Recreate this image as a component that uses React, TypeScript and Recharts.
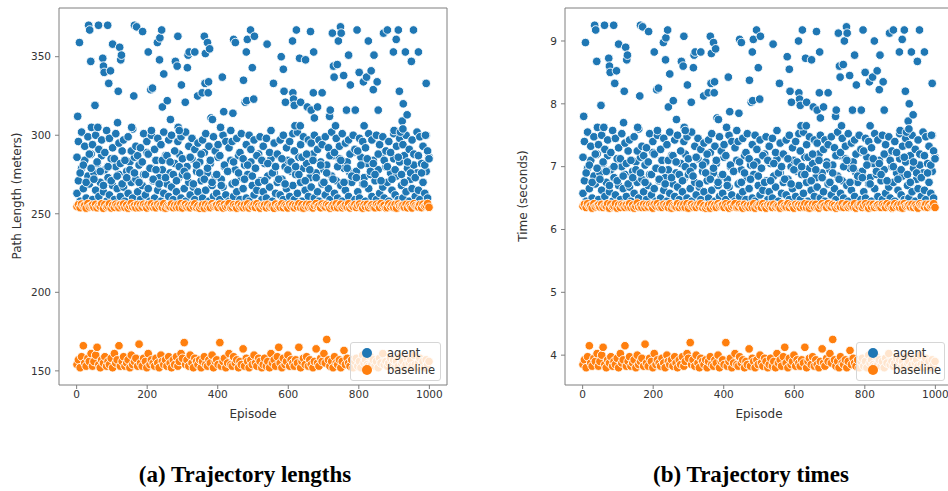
import React from 'react';
import { ScatterChart, Scatter, XAxis, YAxis, ReferenceLine } from 'recharts';

// sampled episodes (dense band + baseline)
const episodes = [
  1, 5, 10, 14, 19, 23, 27, 32, 36, 41,
  45, 49, 54, 58, 63, 67, 71, 76, 80, 85,
  89, 93, 98, 102, 107, 111, 115, 120, 124, 129,
  133, 137, 142, 146, 151, 155, 159, 164, 168, 173,
  177, 181, 186, 190, 195, 199, 203, 208, 212, 217,
  221, 225, 230, 234, 239, 243, 247, 252, 256, 261,
  265, 269, 274, 278, 283, 287, 291, 296, 300, 305,
  309, 313, 318, 322, 327, 331, 335, 340, 344, 349,
  353, 357, 362, 366, 371, 375, 379, 384, 388, 393,
  397, 401, 406, 410, 415, 419, 423, 428, 432, 437,
  441, 445, 450, 454, 459, 463, 467, 472, 476, 481,
  485, 489, 494, 498, 503, 507, 511, 516, 520, 525,
  529, 533, 538, 542, 547, 551, 555, 560, 564, 569,
  573, 577, 582, 586, 591, 595, 599, 604, 608, 613,
  617, 621, 626, 630, 635, 639, 643, 648, 652, 657,
  661, 665, 670, 674, 679, 683, 687, 692, 696, 701,
  705, 709, 714, 718, 723, 727, 731, 736, 740, 745,
  749, 753, 758, 762, 767, 771, 775, 780, 784, 789,
  793, 797, 802, 806, 811, 815, 819, 824, 828, 833,
  837, 841, 846, 850, 855, 859, 863, 868, 872, 877,
  881, 885, 890, 894, 899, 903, 907, 912, 916, 921,
  925, 929, 934, 938, 943, 947, 951, 956, 960, 965,
  969, 973, 978, 982, 987, 991, 995, 999,
];

const agentLength1 = [
  263, 271, 258, 279, 266, 284, 260, 274, 269, 288,
  259, 276, 265, 282, 261, 270, 287, 264, 278, 258,
  273, 262, 285, 268, 259, 280, 266, 275, 261, 290,
  267, 258, 277, 263, 283, 270, 260, 286, 272, 264,
  281, 259, 268, 275, 262, 289, 266, 258, 279, 271,
  260, 284, 265, 273, 258, 278, 263, 287, 269, 261,
  276, 267, 259, 282, 264, 272, 288, 260, 275, 266,
  258, 280, 270, 262, 285, 267, 259, 277, 264, 283,
  271, 260, 289, 265, 276, 258, 282, 268, 261, 274,
  263, 286, 259, 272, 267, 280, 262, 277, 258, 284,
  269, 261, 278, 264, 287, 259, 273, 266, 281, 260,
  275, 258, 283, 268, 262, 279, 265, 288, 271, 259,
  264, 282, 260, 274, 267, 285, 258, 276, 263, 270,
  287, 262, 272, 259, 280, 266, 284, 261, 277, 268,
  259, 275, 263, 286, 270, 258, 279, 265, 282, 261,
  273, 267, 288, 260, 276, 264, 258, 283, 269, 278,
  262, 281, 266, 259, 274, 287, 263, 271, 260, 285,
  268, 258, 279, 265, 283, 261, 276, 270, 289, 259,
  277, 264, 260, 286, 269, 273, 258, 282, 266, 275,
  261, 284, 271, 259, 278, 263, 288, 267, 260, 280,
  270, 258, 276, 265, 285, 262, 274, 259, 283, 268,
  260, 287, 264, 279, 258, 272, 266, 281, 261, 276,
  265, 259, 282, 270, 263, 277, 260, 286,
];

const agentLength2 = [
  286, 296, 276, 302, 281, 293, 270, 299, 288, 279,
  294, 272, 300, 283, 291, 277, 297, 268, 289, 303,
  280, 298, 271, 292, 285, 301, 274, 295, 282, 269,
  297, 284, 273, 299, 278, 290, 304, 276, 293, 287,
  270, 292, 283, 301, 275, 296, 288, 279, 300, 272,
  291, 278, 298, 269, 294, 284, 302, 273, 287, 297,
  283, 300, 275, 290, 271, 296, 280, 299, 285, 277,
  302, 274, 293, 286, 298, 269, 291, 281, 295, 276,
  288, 297, 272, 301, 279, 293, 284, 270, 299, 290,
  275, 294, 287, 268, 300, 281, 296, 277, 292, 303,
  296, 283, 270, 298, 276, 289, 301, 285, 272, 294,
  281, 300, 291, 274, 297, 279, 287, 270, 299, 284,
  293, 271, 298, 282, 289, 303, 276, 295, 280, 288,
  272, 297, 285, 300, 269, 292, 278, 296, 283, 301,
  290, 280, 302, 275, 294, 286, 299, 271, 288, 297,
  278, 295, 284, 300, 273, 291, 297, 281, 294, 270,
  299, 276, 292, 287, 302, 272, 289, 298, 280, 293,
  284, 301, 270, 295, 279, 297, 288, 274, 300, 291,
  273, 290, 298, 281, 296, 269, 292, 285, 301, 277,
  297, 282, 275, 300, 288, 294, 271, 299, 284, 290,
  280, 296, 289, 272, 301, 278, 293, 286, 298, 275,
  294, 270, 300, 283, 291, 276, 297, 288, 273, 302,
  287, 299, 276, 293, 281, 300, 290, 285,
];

const agentTime1 = [
  6.575, 6.775, 6.45, 6.975, 6.65, 7.1, 6.5, 6.85, 6.725, 7.2,
  6.475, 6.9, 6.625, 7.05, 6.525, 6.75, 7.175, 6.6, 6.95, 6.45,
  6.825, 6.55, 7.125, 6.7, 6.475, 7.0, 6.65, 6.875, 6.525, 7.25,
  6.675, 6.45, 6.925, 6.575, 7.075, 6.75, 6.5, 7.15, 6.8, 6.6,
  7.025, 6.475, 6.7, 6.875, 6.55, 7.225, 6.65, 6.45, 6.975, 6.775,
  6.5, 7.1, 6.625, 6.825, 6.45, 6.95, 6.575, 7.175, 6.725, 6.525,
  6.9, 6.675, 6.475, 7.05, 6.6, 6.8, 7.2, 6.5, 6.875, 6.65,
  6.45, 7.0, 6.75, 6.55, 7.125, 6.675, 6.475, 6.925, 6.6, 7.075,
  6.775, 6.5, 7.225, 6.625, 6.9, 6.45, 7.05, 6.7, 6.525, 6.85,
  6.575, 7.15, 6.475, 6.8, 6.675, 7.0, 6.55, 6.925, 6.45, 7.1,
  6.725, 6.525, 6.95, 6.6, 7.175, 6.475, 6.825, 6.65, 7.025, 6.5,
  6.875, 6.45, 7.075, 6.7, 6.55, 6.975, 6.625, 7.2, 6.775, 6.475,
  6.6, 7.05, 6.5, 6.85, 6.675, 7.125, 6.45, 6.9, 6.575, 6.75,
  7.175, 6.55, 6.8, 6.475, 7.0, 6.65, 7.1, 6.525, 6.925, 6.7,
  6.475, 6.875, 6.575, 7.15, 6.75, 6.45, 6.975, 6.625, 7.05, 6.525,
  6.825, 6.675, 7.2, 6.5, 6.9, 6.6, 6.45, 7.075, 6.725, 6.95,
  6.55, 7.025, 6.65, 6.475, 6.85, 7.175, 6.575, 6.775, 6.5, 7.125,
  6.7, 6.45, 6.975, 6.625, 7.075, 6.525, 6.9, 6.75, 7.225, 6.475,
  6.925, 6.6, 6.5, 7.15, 6.725, 6.825, 6.45, 7.05, 6.65, 6.875,
  6.525, 7.1, 6.775, 6.475, 6.95, 6.575, 7.2, 6.675, 6.5, 7.0,
  6.75, 6.45, 6.9, 6.625, 7.125, 6.55, 6.85, 6.475, 7.075, 6.7,
  6.5, 7.175, 6.6, 6.975, 6.45, 6.8, 6.65, 7.025, 6.525, 6.9,
  6.625, 6.475, 7.05, 6.75, 6.575, 6.925, 6.5, 7.15,
];

const agentTime2 = [
  7.15, 7.4, 6.9, 7.55, 7.025, 7.325, 6.75, 7.475, 7.2, 6.975,
  7.35, 6.8, 7.5, 7.075, 7.275, 6.925, 7.425, 6.7, 7.225, 7.575,
  7.0, 7.45, 6.775, 7.3, 7.125, 7.525, 6.85, 7.375, 7.05, 6.725,
  7.425, 7.1, 6.825, 7.475, 6.95, 7.25, 7.6, 6.9, 7.325, 7.175,
  6.75, 7.3, 7.075, 7.525, 6.875, 7.4, 7.2, 6.975, 7.5, 6.8,
  7.275, 6.95, 7.45, 6.725, 7.35, 7.1, 7.55, 6.825, 7.175, 7.425,
  7.075, 7.5, 6.875, 7.25, 6.775, 7.4, 7.0, 7.475, 7.125, 6.925,
  7.55, 6.85, 7.325, 7.15, 7.45, 6.725, 7.275, 7.025, 7.375, 6.9,
  7.2, 7.425, 6.8, 7.525, 6.975, 7.325, 7.1, 6.75, 7.475, 7.25,
  6.875, 7.35, 7.175, 6.7, 7.5, 7.025, 7.4, 6.925, 7.3, 7.575,
  7.4, 7.075, 6.75, 7.45, 6.9, 7.225, 7.525, 7.125, 6.8, 7.35,
  7.025, 7.5, 7.275, 6.85, 7.425, 6.975, 7.175, 6.75, 7.475, 7.1,
  7.325, 6.775, 7.45, 7.05, 7.225, 7.575, 6.9, 7.375, 7.0, 7.2,
  6.8, 7.425, 7.125, 7.5, 6.725, 7.3, 6.95, 7.4, 7.075, 7.525,
  7.25, 7.0, 7.55, 6.875, 7.35, 7.15, 7.475, 6.775, 7.2, 7.425,
  6.95, 7.375, 7.1, 7.5, 6.825, 7.275, 7.425, 7.025, 7.35, 6.75,
  7.475, 6.9, 7.3, 7.175, 7.55, 6.8, 7.225, 7.45, 7.0, 7.325,
  7.1, 7.525, 6.75, 7.375, 6.975, 7.425, 7.2, 6.85, 7.5, 7.275,
  6.825, 7.25, 7.45, 7.025, 7.4, 6.725, 7.3, 7.125, 7.525, 6.925,
  7.425, 7.05, 6.875, 7.5, 7.2, 7.35, 6.775, 7.475, 7.1, 7.25,
  7.0, 7.4, 7.225, 6.8, 7.525, 6.95, 7.325, 7.15, 7.45, 6.875,
  7.35, 6.75, 7.5, 7.075, 7.275, 6.9, 7.425, 7.2, 6.825, 7.55,
  7.175, 7.475, 6.9, 7.325, 7.025, 7.5, 7.25, 7.125,
];

// sparse agent episodes above ~300 m
const outlierEpisodes = [
  3, 8, 34, 37, 40, 42, 52, 60, 62, 74,
  76, 78, 88, 91, 96, 102, 116, 118, 122, 125,
  127, 156, 162, 164, 170, 187, 203, 210, 212, 215,
  229, 235, 236, 241, 243, 247, 257, 266, 280, 285,
  287, 288, 291, 297, 308, 314, 316, 319, 335, 343,
  356, 362, 364, 365, 371, 373, 374, 377, 381, 385,
  408, 413, 417, 443, 445, 450, 473, 478, 481, 482,
  484, 493, 498, 502, 504, 540, 558, 580, 586, 588,
  592, 612, 613, 615, 617, 619, 623, 632, 634, 635,
  649, 654, 663, 665, 671, 672, 674, 683, 696, 717,
  719, 725, 728, 730, 734, 739, 742, 748, 750, 757,
  765, 771, 776, 790, 795, 801, 813, 815, 822, 827,
  835, 841, 843, 852, 855, 870, 881, 898, 900, 906,
  912, 915, 918, 923, 925, 926, 932, 937, 949, 955,
  969, 989, 991,
];

const outlierLength = [
  312, 359, 370, 367, 347, 305, 319, 305, 370, 349,
  344, 340, 370, 333, 341, 358, 308, 328, 356, 348,
  351, 305, 325, 370, 369, 366, 353, 329, 303, 330,
  359, 348, 362, 367, 318, 339, 322, 310, 347, 344,
  363, 305, 303, 332, 321, 343, 351, 353, 353, 325,
  327, 363, 333, 352, 359, 327, 334, 355, 311, 310,
  305, 337, 315, 314, 361, 359, 335, 321, 353, 322,
  361, 367, 343, 323, 363, 358, 333, 350, 342, 328,
  321, 360, 327, 323, 319, 306, 367, 349, 306, 321,
  348, 318, 366, 316, 327, 353, 311, 318, 327, 312,
  316, 365, 344, 337, 306, 345, 360, 369, 365, 338,
  316, 351, 332, 316, 367, 340, 334, 306, 337, 360,
  341, 329, 351, 334, 316, 365, 367, 353, 303, 361,
  367, 328, 302, 309, 304, 320, 353, 313, 347, 367,
  353, 300, 333,
];

const outlierTime = [
  7.8, 8.975, 9.25, 9.175, 8.675, 7.625, 7.975, 7.625, 9.25, 8.725,
  8.6, 8.5, 9.25, 8.325, 8.525, 8.95, 7.7, 8.2, 8.9, 8.7,
  8.775, 7.625, 8.125, 9.25, 9.225, 9.15, 8.825, 8.225, 7.575, 8.25,
  8.975, 8.7, 9.05, 9.175, 7.95, 8.475, 8.05, 7.75, 8.675, 8.6,
  9.075, 7.625, 7.575, 8.3, 8.025, 8.575, 8.775, 8.825, 8.825, 8.125,
  8.175, 9.075, 8.325, 8.8, 8.975, 8.175, 8.35, 8.875, 7.775, 7.75,
  7.625, 8.425, 7.875, 7.85, 9.025, 8.975, 8.375, 8.025, 8.825, 8.05,
  9.025, 9.175, 8.575, 8.075, 9.075, 8.95, 8.325, 8.75, 8.55, 8.2,
  8.025, 9.0, 8.175, 8.075, 7.975, 7.65, 9.175, 8.725, 7.65, 8.025,
  8.7, 7.95, 9.15, 7.9, 8.175, 8.825, 7.775, 7.95, 8.175, 7.8,
  7.9, 9.125, 8.6, 8.425, 7.65, 8.625, 9.0, 9.225, 9.125, 8.45,
  7.9, 8.775, 8.3, 7.9, 9.175, 8.5, 8.35, 7.65, 8.425, 9.0,
  8.525, 8.225, 8.775, 8.35, 7.9, 9.125, 9.175, 8.825, 7.575, 9.025,
  9.175, 8.2, 7.55, 7.725, 7.6, 8.0, 8.825, 7.825, 8.675, 9.175,
  8.825, 7.5, 8.325,
];

const baselineHighLength = [
  254.6, 255.8, 253.9, 256.2, 254.9, 255.3, 253.6, 256.5, 254.4, 255.1,
  255.6, 254.2, 256.0, 253.8, 255.2, 254.7, 256.4, 253.5, 255.9, 254.3,
  254.8, 256.3, 253.7, 255.4, 254.1, 256.1, 255.0, 253.9, 255.7, 254.5,
  256.2, 254.0, 255.5, 253.6, 254.9, 256.6, 254.4, 255.2, 253.8, 255.9,
  253.9, 255.6, 254.3, 256.1, 255.0, 253.7, 255.8, 254.6, 256.3, 254.2,
  255.3, 253.8, 256.0, 254.7, 255.5, 254.1, 256.4, 253.6, 255.1, 254.8,
  254.5, 256.2, 253.9, 255.4, 254.2, 255.9, 254.0, 256.5, 253.7, 255.6,
  256.1, 254.4, 255.2, 253.8, 255.8, 254.6, 256.3, 254.1, 255.0, 253.5,
  254.9, 255.7, 253.6, 256.0, 254.3, 255.4, 253.9, 256.4, 254.7, 255.1,
  255.5, 254.0, 256.2, 254.6, 253.7, 255.9, 254.4, 255.2, 256.5, 253.8,
  254.2, 255.8, 254.8, 253.6, 256.1, 254.5, 255.3, 253.9, 255.7, 254.1,
  256.3, 253.7, 255.1, 254.6, 255.9, 254.0, 256.4, 254.8, 253.6, 255.4,
  254.7, 255.6, 253.8, 256.0, 254.3, 255.2, 254.9, 253.5, 256.2, 254.4,
  255.0, 254.2, 256.3, 253.9, 255.5, 254.6, 253.7, 256.1, 254.8, 255.7,
  253.8, 255.4, 254.5, 256.4, 254.0, 255.8, 253.6, 255.1, 256.0, 254.3,
  255.9, 254.1, 253.7, 255.3, 256.5, 254.6, 255.0, 253.8, 256.2, 254.9,
  254.4, 256.0, 255.2, 253.6, 254.8, 255.7, 254.2, 256.3, 253.9, 255.5,
  256.1, 253.8, 254.9, 255.6, 254.3, 256.4, 253.7, 255.0, 254.6, 255.9,
  254.0, 255.3, 256.2, 254.7, 253.6, 255.8, 254.5, 256.0, 253.9, 255.1,
  255.7, 254.3, 253.8, 256.1, 255.2, 254.0, 256.5, 254.8, 255.4, 253.7,
  253.9, 256.3, 254.6, 255.5, 254.1, 255.9, 253.6, 256.2, 254.9, 255.0,
  255.4, 254.2, 256.0, 253.8, 255.7, 254.5, 253.7, 256.4, 255.1, 254.6,
  254.3, 255.8, 253.9, 256.1, 254.8, 255.3, 256.5, 254.1,
];

const baselineLowLength = [
  154, 157, 152, 159, 166, 155, 153, 158, 156, 161,
  153, 156, 160, 165, 154, 152, 157, 155, 159, 153,
  156, 154, 158, 152, 161, 155, 157, 166, 153, 156,
  159, 153, 155, 157, 152, 160, 154, 156, 158, 153,
  167, 155, 153, 158, 156, 152, 161, 154, 157, 155,
  153, 158, 155, 152, 160, 156, 154, 157, 153, 159,
  155, 152, 157, 154, 159, 153, 156, 161, 158, 168,
  154, 157, 153, 160, 155, 152, 158, 156, 154, 157,
  152, 156, 159, 154, 153, 157, 155, 160, 152, 156,
  157, 154, 168, 153, 156, 158, 152, 155, 161, 154,
  153, 159, 155, 157, 152, 156, 154, 164, 153, 158,
  156, 152, 157, 154, 160, 155, 153, 158, 156, 152,
  154, 158, 153, 156, 152, 161, 155, 157, 153, 159,
  165, 155, 152, 158, 154, 156, 160, 153, 157, 155,
  153, 157, 155, 165, 152, 156, 158, 154, 159, 153,
  157, 154, 152, 156, 164, 155, 153, 158, 156, 161,
  155, 170, 157, 153, 156, 152, 159, 155, 154, 157,
  152, 156, 163, 154, 158, 155, 153, 157, 152, 156,
  158, 153, 156, 152, 160, 155, 157, 154, 153, 159,
  154, 157, 153, 156, 152, 158, 155, 161, 154, 156,
  153, 155, 158, 154, 157, 152, 156, 153, 159, 155,
  156, 152, 154, 158, 155, 157, 153, 160, 154, 152,
  155, 158, 153, 156, 152, 157, 154, 156,
];

const baselineHighTime = [
  6.37, 6.40, 6.35, 6.41, 6.37, 6.38, 6.34, 6.41, 6.36, 6.38,
  6.39, 6.36, 6.40, 6.35, 6.38, 6.37, 6.41, 6.34, 6.40, 6.36,
  6.37, 6.41, 6.34, 6.39, 6.35, 6.40, 6.38, 6.35, 6.39, 6.36,
  6.41, 6.35, 6.39, 6.34, 6.37, 6.42, 6.36, 6.38, 6.35, 6.40,
  6.35, 6.39, 6.36, 6.40, 6.38, 6.34, 6.40, 6.37, 6.41, 6.36,
  6.38, 6.35, 6.40, 6.37, 6.39, 6.35, 6.41, 6.34, 6.38, 6.37,
  6.36, 6.41, 6.35, 6.39, 6.36, 6.40, 6.35, 6.41, 6.34, 6.39,
  6.40, 6.36, 6.38, 6.35, 6.40, 6.37, 6.41, 6.35, 6.38, 6.34,
  6.37, 6.39, 6.34, 6.40, 6.36, 6.39, 6.35, 6.41, 6.37, 6.38,
  6.39, 6.35, 6.41, 6.37, 6.34, 6.40, 6.36, 6.38, 6.41, 6.35,
  6.36, 6.40, 6.37, 6.34, 6.40, 6.36, 6.38, 6.35, 6.39, 6.35,
  6.41, 6.34, 6.38, 6.37, 6.40, 6.35, 6.41, 6.37, 6.34, 6.39,
  6.37, 6.39, 6.35, 6.40, 6.36, 6.38, 6.37, 6.34, 6.41, 6.36,
  6.38, 6.36, 6.41, 6.35, 6.39, 6.37, 6.34, 6.40, 6.37, 6.39,
  6.35, 6.39, 6.36, 6.41, 6.35, 6.40, 6.34, 6.38, 6.40, 6.36,
  6.40, 6.35, 6.34, 6.38, 6.41, 6.37, 6.38, 6.35, 6.41, 6.37,
  6.36, 6.40, 6.38, 6.34, 6.37, 6.39, 6.36, 6.41, 6.35, 6.39,
  6.40, 6.35, 6.37, 6.39, 6.36, 6.41, 6.34, 6.38, 6.37, 6.40,
  6.35, 6.38, 6.41, 6.37, 6.34, 6.40, 6.36, 6.40, 6.35, 6.38,
  6.39, 6.36, 6.35, 6.40, 6.38, 6.35, 6.41, 6.37, 6.39, 6.34,
  6.35, 6.41, 6.37, 6.39, 6.35, 6.40, 6.34, 6.41, 6.37, 6.38,
  6.39, 6.36, 6.40, 6.35, 6.39, 6.36, 6.34, 6.41, 6.38, 6.37,
  6.36, 6.40, 6.35, 6.40, 6.37, 6.38, 6.41, 6.35,
];

const baselineLowTime = [
  3.85, 3.925, 3.8, 3.975, 4.15, 3.875, 3.825, 3.95, 3.9, 4.025,
  3.825, 3.9, 4.0, 4.125, 3.85, 3.8, 3.925, 3.875, 3.975, 3.825,
  3.9, 3.85, 3.95, 3.8, 4.025, 3.875, 3.925, 4.15, 3.825, 3.9,
  3.975, 3.825, 3.875, 3.925, 3.8, 4.0, 3.85, 3.9, 3.95, 3.825,
  4.175, 3.875, 3.825, 3.95, 3.9, 3.8, 4.025, 3.85, 3.925, 3.875,
  3.825, 3.95, 3.875, 3.8, 4.0, 3.9, 3.85, 3.925, 3.825, 3.975,
  3.875, 3.8, 3.925, 3.85, 3.975, 3.825, 3.9, 4.025, 3.95, 4.2,
  3.85, 3.925, 3.825, 4.0, 3.875, 3.8, 3.95, 3.9, 3.85, 3.925,
  3.8, 3.9, 3.975, 3.85, 3.825, 3.925, 3.875, 4.0, 3.8, 3.9,
  3.925, 3.85, 4.2, 3.825, 3.9, 3.95, 3.8, 3.875, 4.025, 3.85,
  3.825, 3.975, 3.875, 3.925, 3.8, 3.9, 3.85, 4.1, 3.825, 3.95,
  3.9, 3.8, 3.925, 3.85, 4.0, 3.875, 3.825, 3.95, 3.9, 3.8,
  3.85, 3.95, 3.825, 3.9, 3.8, 4.025, 3.875, 3.925, 3.825, 3.975,
  4.125, 3.875, 3.8, 3.95, 3.85, 3.9, 4.0, 3.825, 3.925, 3.875,
  3.825, 3.925, 3.875, 4.125, 3.8, 3.9, 3.95, 3.85, 3.975, 3.825,
  3.925, 3.85, 3.8, 3.9, 4.1, 3.875, 3.825, 3.95, 3.9, 4.025,
  3.875, 4.25, 3.925, 3.825, 3.9, 3.8, 3.975, 3.875, 3.85, 3.925,
  3.8, 3.9, 4.075, 3.85, 3.95, 3.875, 3.825, 3.925, 3.8, 3.9,
  3.95, 3.825, 3.9, 3.8, 4.0, 3.875, 3.925, 3.85, 3.825, 3.975,
  3.85, 3.925, 3.825, 3.9, 3.8, 3.95, 3.875, 4.025, 3.85, 3.9,
  3.825, 3.875, 3.95, 3.85, 3.925, 3.8, 3.9, 3.825, 3.975, 3.875,
  3.9, 3.8, 3.85, 3.95, 3.875, 3.925, 3.825, 4.0, 3.85, 3.8,
  3.875, 3.95, 3.825, 3.9, 3.8, 3.925, 3.85, 3.9,
];

const episodeTicks = [0, 200, 400, 600, 800, 1000];
const lengthTicks = [150, 200, 250, 300, 350];
const timeTicks = [4, 5, 6, 7, 8, 9];

const BLUE = '#1f77b4';
const ORANGE = '#ff7f0e';
const AXIS = '#7f7f7f';
const TEXT = '#333333';
const FONT = '"DejaVu Sans", sans-serif';

type Pt = { x: number; y: number };

const toPoints = (xs: number[], ys: number[]): Pt[] =>
  xs.slice(0, ys.length).map((x, i) => ({ x, y: ys[i] }));

const dot = (color: string) => (p: any) =>
  <circle cx={p.cx} cy={p.cy} r={4.3} fill={color} stroke="#ffffff" strokeWidth={0.9} />;

const tickStyle = { fontSize: 10.5, fill: TEXT, fontFamily: FONT };

interface PanelProps {
  left: number;
  yLabel: string;
  yDomain: [number, number];
  yTicks: number[];
  agent: Pt[];
  baseline: Pt[];
  legendLeft: number;
  legendWidth: number;
}

const Panel: React.FC<PanelProps> = ({ left, yLabel, yDomain, yTicks, agent, baseline, legendLeft, legendWidth }) => (
  <div style={{ position: 'absolute', left, top: 0, width: 460, height: 420 }}>
    <ScatterChart width={460} height={420} margin={{ top: 8, right: 13, bottom: 0, left: 0 }}>
      <XAxis
        type="number"
        dataKey="x"
        domain={[-50, 1050]}
        ticks={episodeTicks}
        interval={0}
        allowDataOverflow
        height={35}
        tickSize={4}
        tick={tickStyle}
        tickLine={{ stroke: AXIS }}
        axisLine={{ stroke: AXIS }}
      />
      <YAxis
        type="number"
        dataKey="y"
        domain={yDomain}
        ticks={yTicks}
        interval={0}
        allowDataOverflow
        width={59}
        tickSize={4}
        tickMargin={4}
        tick={tickStyle}
        tickLine={{ stroke: AXIS }}
        axisLine={{ stroke: AXIS }}
      />
      <ReferenceLine y={yDomain[1]} stroke={AXIS} />
      <ReferenceLine x={1050} stroke={AXIS} />
      <Scatter data={agent} fill={BLUE} shape={dot(BLUE)} isAnimationActive={false} />
      <Scatter data={baseline} fill={ORANGE} shape={dot(ORANGE)} isAnimationActive={false} />
    </ScatterChart>
    <div
      style={{
        position: 'absolute', left: 17 - 150, top: 196 - 7, width: 300, height: 14,
        lineHeight: '14px', textAlign: 'center', transform: 'rotate(-90deg)',
        fontFamily: FONT, fontSize: 12, color: TEXT,
      }}
    >
      {yLabel}
    </div>
    <div
      style={{
        position: 'absolute', left: 59, top: 407, width: 388, textAlign: 'center',
        fontFamily: FONT, fontSize: 12, color: TEXT, lineHeight: '14px',
      }}
    >
      Episode
    </div>
    <div
      style={{
        position: 'absolute', left: legendLeft, top: 342, width: legendWidth, height: 39,
        boxSizing: 'border-box', background: 'rgba(255,255,255,0.8)',
        border: '1px solid #d6d6d6', borderRadius: 3, fontFamily: FONT, fontSize: 11.5, color: TEXT,
      }}
    >
      {[['agent', BLUE], ['baseline', ORANGE]].map(([name, c], i) => (
        <div key={name} style={{ position: 'absolute', left: 0, top: 3 + i * 17, height: 14, width: '100%' }}>
          <span
            style={{
              position: 'absolute', left: 11, top: 2, width: 10, height: 10,
              borderRadius: '50%', background: c,
            }}
          />
          <span style={{ position: 'absolute', left: 36, top: 0, lineHeight: '14px' }}>{name}</span>
        </div>
      ))}
    </div>
  </div>
);

const captionStyle: React.CSSProperties = {
  position: 'absolute', top: 463, width: 400, textAlign: 'center',
  fontFamily: '"Liberation Serif", "Times New Roman", serif', fontWeight: 'bold',
  fontSize: 23, lineHeight: '23px', color: '#000',
};

export default function App() {
  const agentLen = [
    ...toPoints(episodes, agentLength1),
    ...toPoints(episodes, agentLength2),
    ...toPoints(outlierEpisodes, outlierLength),
  ];
  const baseLen = [
    ...toPoints(episodes, baselineHighLength),
    ...toPoints(episodes, baselineLowLength),
  ];
  const agentTime = [
    ...toPoints(episodes, agentTime1),
    ...toPoints(episodes, agentTime2),
    ...toPoints(outlierEpisodes, outlierTime),
  ];
  const baseTime = [
    ...toPoints(episodes, baselineHighTime),
    ...toPoints(episodes, baselineLowTime),
  ];

  return (
    <div style={{ position: 'absolute', left: 0, top: 0, width: 948, height: 491, overflow: 'hidden', background: '#fff' }}>
      <Panel
        left={0}
        yLabel="Path Length (meters)"
        yDomain={[141, 381]}
        yTicks={lengthTicks}
        agent={agentLen}
        baseline={baseLen}
        legendLeft={350}
        legendWidth={91}
      />
      <Panel
        left={506}
        yLabel="Time (seconds)"
        yDomain={[3.525, 9.525]}
        yTicks={timeTicks}
        agent={agentTime}
        baseline={baseTime}
        legendLeft={350}
        legendWidth={89}
      />
      <div style={{ ...captionStyle, left: 45 }}>(a) Trajectory lengths</div>
      <div style={{ ...captionStyle, left: 551 }}>(b) Trajectory times</div>
    </div>
  );
}
